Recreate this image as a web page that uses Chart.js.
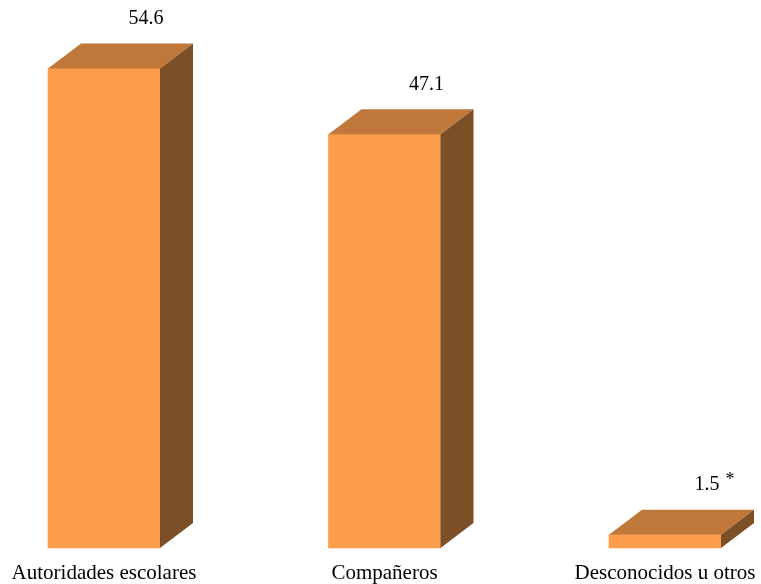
<!DOCTYPE html>
<html>
<head>
<meta charset="utf-8">
<script src="https://cdn.jsdelivr.net/npm/chart.js@4"></script>
<style>
  html, body { margin: 0; padding: 0; background: #fff; }
  #wrap { width: 761px; height: 584px; }
</style>
</head>
<body>
<div id="wrap"><canvas id="bars"></canvas></div>
<script>
const categories = ['Autoridades escolares', 'Compañeros', 'Desconocidos u otros'];
const values = [54.6, 47.1, 1.5];
const valueLabels = ['54.6', '47.1', '1.5'];
const notes = ['', '', '*'];

// depth of the fake 3d box
const DX = 33, DY = 25;

const box3d = {
    id: 'box3d',
    afterDatasetsDraw(chart) {
        const ctx = chart.ctx;
        const meta = chart.getDatasetMeta(0);
        ctx.save();
        meta.data.forEach((bar, i) => {
            const left = bar.x - bar.width / 2;
            const right = bar.x + bar.width / 2;
            const top = bar.y;
            const bottom = bar.base;

            // top face
            ctx.fillStyle = '#C0783A';
            ctx.beginPath();
            ctx.moveTo(left, top);
            ctx.lineTo(left + DX, top - DY);
            ctx.lineTo(right + DX, top - DY);
            ctx.lineTo(right, top);
            ctx.closePath();
            ctx.fill();

            // side face
            ctx.fillStyle = '#7C4F26';
            ctx.beginPath();
            ctx.moveTo(right, top);
            ctx.lineTo(right + DX, top - DY);
            ctx.lineTo(right + DX, bottom - DY);
            ctx.lineTo(right, bottom);
            ctx.closePath();
            ctx.fill();

            // value label
            ctx.fillStyle = '#000';
            ctx.font = '20px "Liberation Serif", "Times New Roman", serif';
            ctx.textAlign = 'center';
            ctx.textBaseline = 'middle';
            const lx = bar.x + 42;
            const ly = top - 50;
            ctx.fillText(valueLabels[i], lx, ly);
            if (notes[i]) {
                const w = ctx.measureText(valueLabels[i]).width;
                ctx.textAlign = 'left';
                ctx.font = '18px "Liberation Serif", "Times New Roman", serif';
                ctx.fillText(notes[i], lx + w / 2 + 6, ly - 5);
            }
        });
        ctx.restore();
    }
};

new Chart(document.getElementById('bars').getContext('2d'), {
    type: 'bar',
    data: {
        labels: categories,
        datasets: [{
            data: values,
            backgroundColor: '#FB9D4A',
            borderWidth: 0,
            barThickness: 112
        }]
    },
    options: {
        responsive: true,
        maintainAspectRatio: false,
        animation: false,
        events: [],
        clip: false,
        layout: { padding: { left: 104, right: 96, top: 21, bottom: 0 } },
        plugins: { legend: { display: false }, tooltip: { enabled: false } },
        scales: {
            x: {
                offset: false,
                grid: { display: false, drawTicks: false },
                border: { display: false },
                ticks: {
                    color: '#000',
                    padding: 13,
                    maxRotation: 0,
                    autoSkip: false,
                    font: { family: '"Liberation Serif", "Times New Roman", serif', size: 21 }
                },
                afterFit(scale) {
                    scale.height = 36;
                    scale.paddingLeft = 0;
                    scale.paddingRight = 0;
                }
            },
            y: {
                display: false,
                min: 0,
                max: 60
            }
        }
    },
    plugins: [box3d]
});
</script>
</body>
</html>
